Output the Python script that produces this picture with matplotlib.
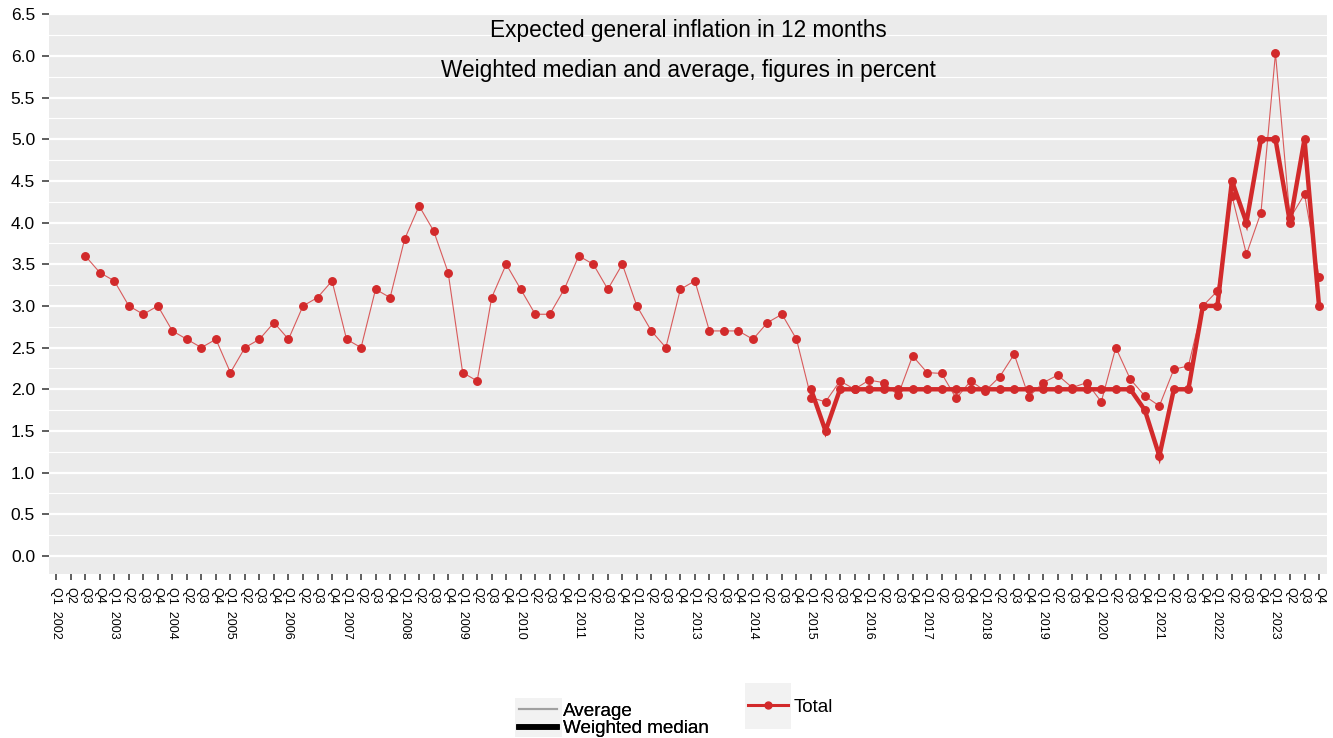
import numpy as np
import matplotlib
matplotlib.use('Agg')
import matplotlib.pyplot as plt
from matplotlib.lines import Line2D
from matplotlib.patches import Rectangle

plt.rcParams['font.family'] = ['Liberation Sans', 'DejaVu Sans']

years = list(range(2002, 2024))
quarters = ['Q1', 'Q2', 'Q3', 'Q4']

# average expectation, one row per year (Q1..Q4)
average = [
    np.nan, np.nan, 3.6, 3.4,   # 2002
    3.3, 3.0, 2.9, 3.0,         # 2003
    2.7, 2.6, 2.5, 2.6,         # 2004
    2.2, 2.5, 2.6, 2.8,         # 2005
    2.6, 3.0, 3.1, 3.3,         # 2006
    2.6, 2.5, 3.2, 3.1,         # 2007
    3.8, 4.2, 3.9, 3.4,         # 2008
    2.2, 2.1, 3.1, 3.5,         # 2009
    3.2, 2.9, 2.9, 3.2,         # 2010
    3.6, 3.5, 3.2, 3.5,         # 2011
    3.0, 2.7, 2.5, 3.2,         # 2012
    3.3, 2.7, 2.7, 2.7,         # 2013
    2.6, 2.8, 2.9, 2.6,         # 2014
    1.9, 1.85, 2.1, 2.0,        # 2015
    2.11, 2.08, 1.93, 2.4,      # 2016
    2.2, 2.19, 1.89, 2.1,       # 2017
    1.98, 2.15, 2.42, 1.91,     # 2018
    2.08, 2.17, 2.02, 2.08,     # 2019
    1.85, 2.5, 2.12, 1.92,      # 2020
    1.8, 2.24, 2.28, 3.0,       # 2021
    3.18, 4.32, 3.62, 4.12,     # 2022
    6.03, 4.05, 4.34, 3.35,     # 2023
]

# weighted median, only reported from 2015
median_start = 2015
weighted_median = [
    2.0, 1.5, 2.0, 2.0,         # 2015
    2.0, 2.0, 2.0, 2.0,         # 2016
    2.0, 2.0, 2.0, 2.0,         # 2017
    2.0, 2.0, 2.0, 2.0,         # 2018
    2.0, 2.0, 2.0, 2.0,         # 2019
    2.0, 2.0, 2.0, 1.75,        # 2020
    1.2, 2.0, 2.0, 3.0,         # 2021
    3.0, 4.5, 4.0, 5.0,         # 2022
    5.0, 4.0, 5.0, 3.0,         # 2023
]

title_lines = ['Expected general inflation in 12 months',
               'Weighted median and average, figures in percent']

RED = '#D22A2B'
PANEL = '#EBEBEB'

# panel edges in pixels
P_LEFT, P_RIGHT, P_TOP, P_BOTTOM = 49, 1327, 12.5, 573.5
W, H = 1333, 738


def main():
    labels = [q + '  ' + str(y) if q == 'Q1' else q for y in years for q in quarters]
    x = np.arange(len(labels))
    x_median = x[(median_start - years[0]) * 4:]

    fig = plt.figure(figsize=(W / 100, H / 100), dpi=100)
    ax = fig.add_axes([P_LEFT / W, 1 - P_BOTTOM / H, (P_RIGHT - P_LEFT) / W, (P_BOTTOM - P_TOP) / H])
    ax.set_facecolor(PANEL)

    ax.plot(x, average, color=RED, lw=0.8, alpha=0.75, zorder=3)
    ax.plot(x, average, ls='none', marker='o', ms=5.4, color=RED, zorder=4)
    ax.plot(x_median, weighted_median, color=RED, lw=3.2, marker='o', ms=5.4,
            solid_joinstyle='miter', zorder=5)

    ax.set_xlim(-0.5, 87.55)
    ax.set_ylim(-0.21, 6.52)
    ax.set_xticks(x)
    ax.set_xticklabels(labels, rotation=270, fontsize=9, va='top', ha='center')
    ax.set_yticks(np.arange(0, 6.51, 0.5))
    ax.set_yticklabels(['%.1f' % v for v in np.arange(0, 6.51, 0.5)], fontsize=12.5)
    ax.set_yticks(np.arange(0.25, 6.5, 0.5), minor=True)
    ax.tick_params(axis='y', which='major', length=5, width=1.1, color='#333333', pad=5)
    ax.tick_params(axis='y', which='minor', length=0)
    ax.tick_params(axis='x', length=4.5, width=1.1, color='#333333', pad=5)
    ax.grid(axis='y', which='major', color='white', lw=1.6)
    ax.grid(axis='y', which='minor', color='white', lw=0.8)
    ax.grid(axis='x', visible=False)
    ax.set_axisbelow(True)
    for s in ax.spines.values():
        s.set_visible(False)

    ph = P_BOTTOM - P_TOP
    ax.text(0.5, 1 - (30 - P_TOP) / ph, title_lines[0], transform=ax.transAxes,
            ha='center', va='center', fontsize=16.3, zorder=6)
    ax.text(0.5, 1 - (70 - P_TOP) / ph, title_lines[1], transform=ax.transAxes,
            ha='center', va='center', fontsize=16.3, zorder=6)

    # legend key backgrounds
    fig.add_artist(Rectangle((515 / W, 1 - 737 / H), 47 / W, 39 / H,
                             transform=fig.transFigure, facecolor='#F2F2F2', edgecolor='none'))
    fig.add_artist(Rectangle((745 / W, 1 - 729 / H), 46 / W, 46 / H,
                             transform=fig.transFigure, facecolor='#F2F2F2', edgecolor='none'))

    type_handles = [Line2D([], [], color='#A0A0A0', lw=1.5),
                    Line2D([], [], color='black', lw=4)]
    leg1 = fig.legend(type_handles, ['Average', 'Weighted median'], loc='center left',
                      bbox_to_anchor=(519 / W, 1 - 720 / H), frameon=False, fontsize=13.6,
                      handlelength=2.0, handletextpad=0.35, labelspacing=0.0, borderpad=0,
                      borderaxespad=0)
    fig.add_artist(leg1)
    total_handle = [Line2D([], [], color=RED, lw=2.2, marker='o', ms=5)]
    fig.legend(total_handle, ['Total'], loc='center left',
               bbox_to_anchor=(748 / W, 1 - 707 / H), frameon=False, fontsize=13.6,
               handlelength=2.1, handletextpad=0.3, borderpad=0, borderaxespad=0)

    fig.savefig('out.png', dpi=100)


if __name__ == '__main__':
    main()
